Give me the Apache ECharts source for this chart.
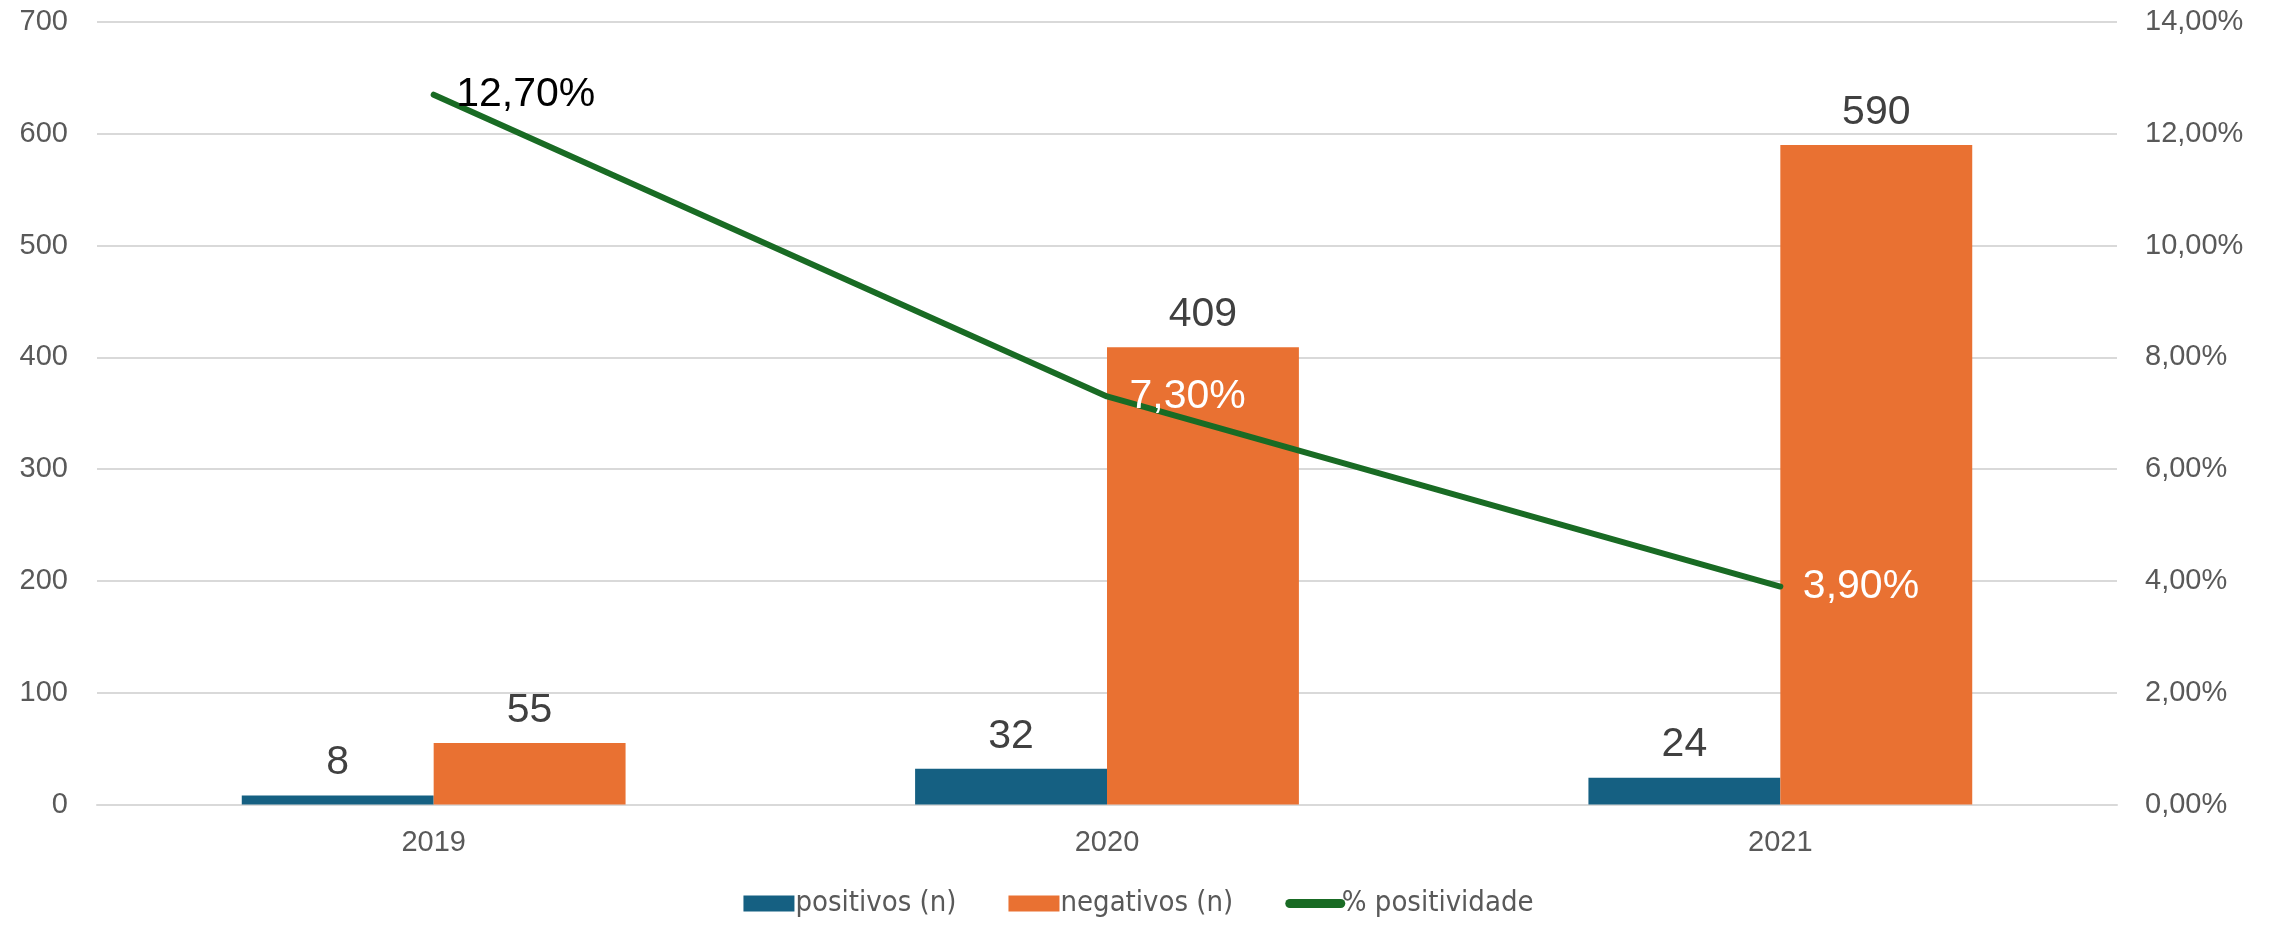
<!DOCTYPE html>
<html>
<head>
<meta charset="utf-8">
<script src="https://cdn.jsdelivr.net/npm/echarts@6/dist/echarts.min.js"></script>
<style>
  html, body { margin: 0; padding: 0; background: #fff; }
  #chart { width: 2277px; height: 927px; }
</style>
</head>
<body>
<div id="chart"></div>
<script>
const anos = ['2019', '2020', '2021']
const positivos = [8, 32, 24]
const negativos = [55, 409, 590]
const positividade = [12.7, 7.3, 3.9]
// rótulo da linha fora da barra fica preto, dentro fica branco
const corRotuloLinha = ['#000', '#fff', '#fff']

const fmtPct = (v, casas) => v.toFixed(casas).replace('.', ',') + '%'

const chart = echarts.init(document.getElementById('chart'))

chart.setOption({
  animation: false,
  textStyle: { fontFamily: 'Liberation Sans, Arial, sans-serif' },
  grid: { left: 97, right: 160, top: 22, bottom: 122.5 },
  legend: {
    bottom: 4,
    left: 'center',
    itemWidth: 51,
    itemHeight: 16,
    itemGap: 52,
    textStyle: { fontFamily: 'DejaVu Sans Condensed, Liberation Sans Narrow, sans-serif', fontSize: 29, color: '#595959', padding: [0, 0, 0, -4] },
    data: [
      { name: 'positivos (n)', icon: 'rect' },
      { name: 'negativos (n)', icon: 'rect' },
      { name: '% positividade', itemStyle: { opacity: 0 }, lineStyle: { width: 9, cap: 'round' } },
    ],
  },
  xAxis: {
    type: 'category',
    data: anos,
    axisLine: { lineStyle: { color: '#d9d9d9', width: 2 } },
    axisTick: { show: false },
    axisLabel: { color: '#595959', fontSize: 29, margin: 24 },
  },
  yAxis: [
    {
      type: 'value',
      min: 0,
      max: 700,
      interval: 100,
      axisLine: { show: false },
      axisTick: { show: false },
      axisLabel: { color: '#595959', fontSize: 29, margin: 29 },
      splitLine: { lineStyle: { color: '#d9d9d9', width: 2 } },
    },
    {
      type: 'value',
      min: 0,
      max: 14,
      interval: 2,
      position: 'right',
      axisLine: { show: false },
      axisTick: { show: false },
      axisLabel: { color: '#595959', fontSize: 29, margin: 28, formatter: (v) => fmtPct(v, 2) },
      splitLine: { show: false },
    },
  ],
  series: [
    {
      name: 'positivos (n)',
      type: 'bar',
      data: positivos,
      barGap: '0%',
      barCategoryGap: '43%',
      itemStyle: { color: '#156082' },
      label: { show: true, position: 'top', distance: 12, fontSize: 41, color: '#404040' },
    },
    {
      name: 'negativos (n)',
      type: 'bar',
      data: negativos,
      itemStyle: { color: '#E97132' },
      label: { show: true, position: 'top', distance: 12, fontSize: 41, color: '#404040' },
    },
    {
      name: '% positividade',
      type: 'line',
      yAxisIndex: 1,
      data: positividade.map((v, i) => ({ value: v, label: { color: corRotuloLinha[i] } })),
      symbol: 'circle',
      symbolSize: 1,
      showSymbol: true,
      lineStyle: { color: '#196B24', width: 6, cap: 'round' },
      itemStyle: { color: '#196B24' },
      label: {
        show: true,
        position: 'right',
        distance: 22,
        offset: [0, 5],
        fontSize: 41,
        formatter: (p) => fmtPct(p.value, 2),
      },
      labelLayout: { hideOverlap: false },
      z: 5,
    },
  ],
})
</script>
</body>
</html>
